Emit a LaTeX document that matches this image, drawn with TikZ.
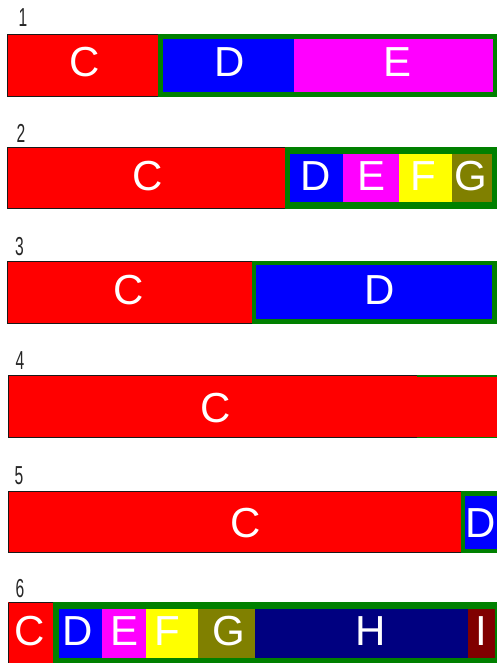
\documentclass[tikz,border=0pt]{standalone}
\usepackage{fontspec}
\setmainfont{Liberation Sans}
\definecolor{cred}{HTML}{FF0000}
\definecolor{cgreen}{HTML}{008000}
\definecolor{cblue}{HTML}{0000FF}
\definecolor{cmag}{HTML}{FF00FF}
\definecolor{cyel}{HTML}{FFFF00}
\definecolor{colive}{HTML}{808000}
\definecolor{cnavy}{HTML}{000080}
\definecolor{cmaroon}{HTML}{800000}
\begin{document}
\begin{tikzpicture}[x=1pt,y=-1pt,
  lbl/.style={font=\fontsize{42}{42}\selectfont, text=white, inner sep=0pt},
  num/.style={font=\fontsize{26}{26}\selectfont, text=black!85, inner sep=0pt, xscale=0.6},
  cbord/.style={draw=black!90, line width=1pt}]
\useasboundingbox (0,0) rectangle (496,663);
% Row 1
\node[num] (n1) at (23,18) {1};
\fill[cred] (7,34) rectangle (158,97);
\draw[cbord] (7.5,34.5) rectangle (158,96.5);
\fill[cgreen] (158,34) rectangle (498,97);
\fill[cblue] (163,39) rectangle (294,92);
\fill[cmag] (294,39) rectangle (493,92);
\node[lbl] (c1) at (85,62.5) {C};
\node[lbl] (d1) at (229.5,62.5) {D};
\node[lbl] (e1) at (397.5,62.5) {E};
% Row 2
\node[num] (n2) at (21,133) {2};
\fill[cred] (7,147) rectangle (285,209);
\draw[cbord] (7.5,147.5) rectangle (285,208.5);
\fill[cgreen] (285,147) rectangle (498,209);
\fill[cblue] (290,154) rectangle (343,202);
\fill[cmag] (343,154) rectangle (399,202);
\fill[cyel] (399,154) rectangle (452,202);
\fill[colive] (452,154) rectangle (492,202);
\node[lbl] (c2) at (148,176) {C};
\node[lbl] (d2) at (315.5,176) {D};
\node[lbl] (e2) at (372,176) {E};
\node[lbl] (f2) at (423,176) {F};
\node[lbl] (g2) at (471,176) {G};
% Row 3
\node[num] (n3) at (19.5,246.5) {3};
\fill[cred] (7,261) rectangle (252,324);
\draw[cbord] (7.5,261.5) rectangle (252,323.5);
\fill[cgreen] (252,261) rectangle (498,324);
\fill[cblue] (256,265) rectangle (492,319);
\node[lbl] (c3) at (129,290.5) {C};
\node[lbl] (d3) at (379.5,290.5) {D};
% Row 4
\node[num] (n4) at (20,361) {4};
\fill[cred] (8,375) rectangle (498,438);
\draw[cbord] (417,375.5) -- (8.5,375.5) -- (8.5,437.5) -- (417,437.5);
\fill[cgreen] (417,375) rectangle (498,376.5);
\fill[cgreen] (417,436.5) rectangle (498,438);
\node[lbl] (c4) at (216,408.5) {C};
% Row 5
\node[num] (n5) at (19,476) {5};
\fill[cred] (8,491) rectangle (461,553);
\draw[cbord] (8.5,491.5) rectangle (461,552.5);
\fill[cgreen] (461,491) rectangle (498,553);
\fill[cblue] (465,496) rectangle (498,549);
\node[lbl] (c5) at (246,523.5) {C};
\node[lbl] (d5) at (481,523.5) {D};
% Row 6
\node[num] (n6) at (20,589) {6};
\fill[cred] (8,602) rectangle (53,664);
\draw[cbord] (8.5,602.5) -- (53,602.5);
\draw[cbord] (8.5,602.5) -- (8.5,664);
\fill[cgreen] (53,602) rectangle (498,664);
\fill[cblue] (59,609) rectangle (102,658);
\fill[cmag] (102,609) rectangle (146,658);
\fill[cyel] (146,609) rectangle (198,658);
\fill[colive] (198,609) rectangle (255,658);
\fill[cnavy] (255,609) rectangle (468,658);
\fill[cmaroon] (468,609) rectangle (495,658);
\node[lbl] (c6) at (30,631) {C};
\node[lbl] (d6) at (77.5,631) {D};
\node[lbl] (e6) at (125,631) {E};
\node[lbl] (f6) at (167.5,631) {F};
\node[lbl] (g6) at (229,631) {G};
\node[lbl] (h6) at (370.5,631) {H};
\node[lbl] (i6) at (481,631) {I};
\end{tikzpicture}
\end{document}
